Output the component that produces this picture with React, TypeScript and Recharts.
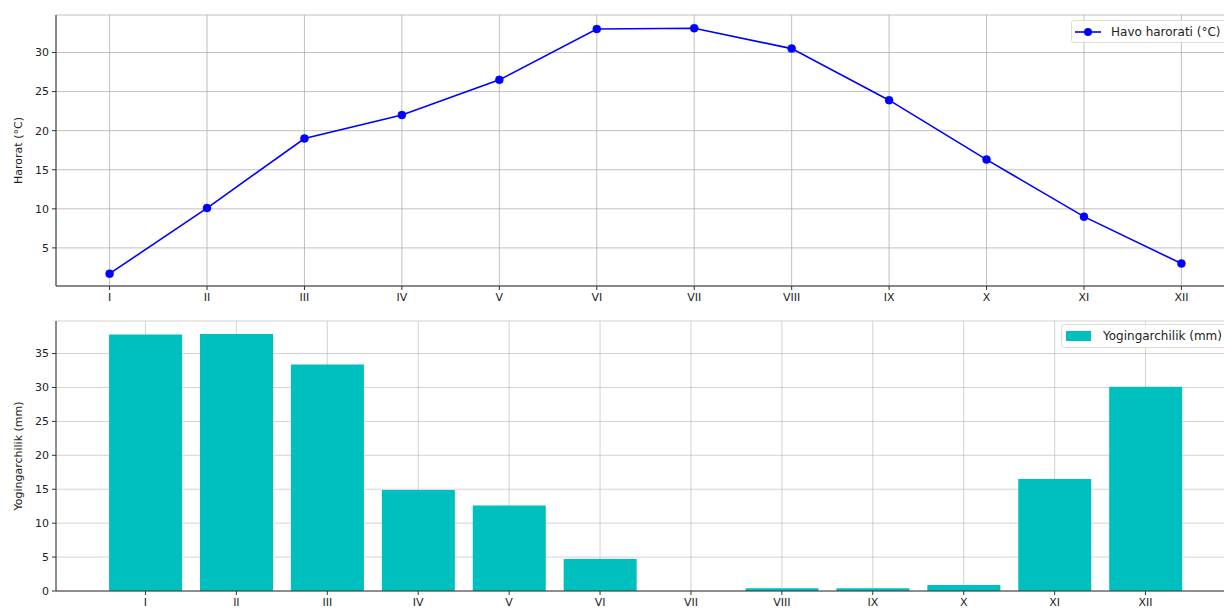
import {
  Bar,
  BarChart,
  CartesianGrid,
  Label,
  Line,
  LineChart,
  XAxis,
  YAxis,
} from "recharts";

const months = ["I", "II", "III", "IV", "V", "VI", "VII", "VIII", "IX", "X", "XI", "XII"];
const temperature = [1.7, 10.1, 19.0, 22.0, 26.5, 33.0, 33.1, 30.5, 23.9, 16.3, 9.0, 3.0];
const precipitation = [37.8, 37.9, 33.4, 14.9, 12.6, 4.7, 0, 0.4, 0.4, 0.9, 16.5, 30.1];
const tempTicks = [5, 10, 15, 20, 25, 30];
const rainTicks = [0, 5, 10, 15, 20, 25, 30, 35];

const tempData = months.map((m, i) => ({ idx: i, month: m, temp: temperature[i] }));
const rainData = months.map((m, i) => ({ month: m, rain: precipitation[i] }));

const font = "'DejaVu Sans', sans-serif";
const tickStyle = { fontSize: 11, fill: "#222", fontFamily: font };
const spine = "#333";
const gridColor = "#b0b0b0";

const yLabel = (text: string) => (props: any) => {
  const vb = props.viewBox;
  const cx = 18;
  const cy = vb.y + vb.height / 2;
  return (
    <text
      x={cx}
      y={cy}
      transform={`rotate(-90, ${cx}, ${cy})`}
      textAnchor="middle"
      dominantBaseline="central"
      fontSize={11}
      fontFamily={font}
      fill="#222"
    >
      {text}
    </text>
  );
};

const legendBox = {
  position: "absolute" as const,
  display: "flex",
  alignItems: "center",
  boxSizing: "border-box" as const,
  border: "1px solid #ddd",
  borderRadius: 3,
  background: "rgba(255,255,255,0.8)",
  fontFamily: font,
  fontSize: 12,
  color: "#222",
  whiteSpace: "nowrap" as const,
};

export default function App() {
  return (
    <div
      style={{
        position: "fixed",
        left: 0,
        top: 0,
        width: 1224,
        height: 610,
        overflow: "hidden",
        background: "#fff",
      }}
    >
      <LineChart
        width={1260}
        height={306}
        data={tempData}
        margin={{ top: 15, right: 25, left: 0, bottom: 0 }}
      >
        <CartesianGrid stroke={gridColor} strokeWidth={0.8} />
        <XAxis
          type="number"
          dataKey="idx"
          domain={[-0.55, 11.55]}
          ticks={months.map((_, i) => i)}
          tickFormatter={(v: number) => months[v]}
          allowDataOverflow
          interval={0}
          height={20}
          stroke={spine}
          tick={tickStyle}
          tickSize={4}
          tickMargin={3}
        />
        <YAxis
          domain={[0.125, 34.8]}
          ticks={tempTicks}
          allowDataOverflow
          width={56}
          stroke={spine}
          tick={tickStyle}
          tickSize={4}
          tickMargin={3}
        >
          <Label content={yLabel("Harorat (°C)")} />
        </YAxis>
        <Line
          dataKey="temp"
          stroke="#0000ff"
          strokeWidth={1.6}
          dot={{ r: 4, fill: "#0000ff", stroke: "#0000ff", strokeWidth: 0.5 }}
          isAnimationActive={false}
        />
      </LineChart>
      <BarChart
        width={1260}
        height={305}
        data={rainData}
        margin={{ top: 15, right: 25, left: 0, bottom: 0 }}
        barCategoryGap="10%"
      >
        <XAxis
          dataKey="month"
          padding={{ left: 44, right: 44 }}
          interval={0}
          height={20}
          stroke={spine}
          tick={tickStyle}
          tickSize={4}
          tickMargin={3}
        />
        <YAxis
          domain={[0, 39.8]}
          ticks={rainTicks}
          allowDataOverflow
          width={56}
          stroke={spine}
          tick={tickStyle}
          tickSize={4}
          tickMargin={3}
        >
          <Label content={yLabel("Yogingarchilik (mm)")} />
        </YAxis>
        <Bar dataKey="rain" fill="#00bfbf" isAnimationActive={false} />
        <CartesianGrid stroke={gridColor} strokeWidth={0.8} strokeOpacity={0.7} />
      </BarChart>
      <div style={{ ...legendBox, left: 1071, top: 20, height: 23, padding: "0 10px 0 3px" }}>
        <svg width={27} height={12} style={{ marginRight: 9 }}>
          <line x1={0} y1={6} x2={26} y2={6} stroke="#0000ff" strokeWidth={1.6} />
          <circle cx={13} cy={6} r={4} fill="#0000ff" />
        </svg>
        Havo harorati (°C)
      </div>
      <div style={{ ...legendBox, left: 1061, top: 324, height: 24, padding: "0 10px 0 4px" }}>
        <svg width={26} height={10} style={{ marginRight: 11 }}>
          <rect x={0} y={0} width={25} height={10} fill="#00bfbf" />
        </svg>
        Yogingarchilik (mm)
      </div>
    </div>
  );
}
